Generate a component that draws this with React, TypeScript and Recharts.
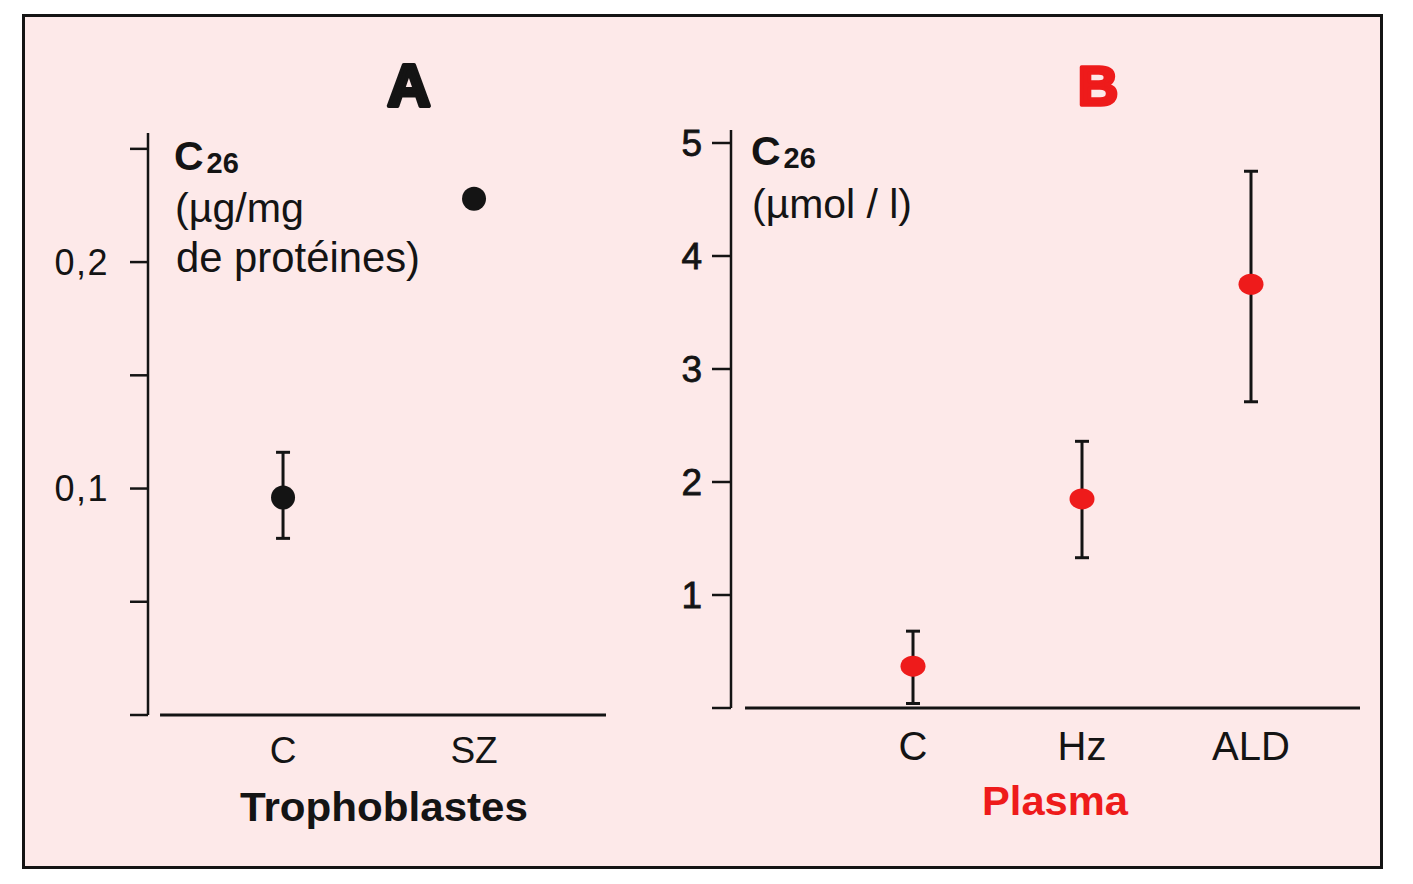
import React from "react";
import { ScatterChart, Scatter, XAxis, YAxis, ErrorBar, ReferenceLine } from "recharts";

const FONT = '"Liberation Sans", Arial, Helvetica, sans-serif';
const INK = "#141414";
const RED = "#ee1b1b";
const PINK = "#fde9e9";

// ---- Panel A : Trophoblastes ----
const categoriesA = ["C", "SZ"];
const meanA = [0.096, 0.228];
const lowA: (number | null)[] = [0.078, null];
const highA: (number | null)[] = [0.116, null];
const yTicksA = [0, 0.05, 0.1, 0.15, 0.2, 0.25];
const yTickLabelsA = ["", "", "0,1", "", "0,2", ""];

// ---- Panel B : Plasma ----
const categoriesB = ["C", "Hz", "ALD"];
const meanB = [0.37, 1.85, 3.75];
const lowB = [0.04, 1.33, 2.71];
const highB = [0.68, 2.36, 4.75];
const yTicksB = [0, 1, 2, 3, 4, 5];
const yTickLabelsB = ["", "1", "2", "3", "4", "5"];

const dataA = categoriesA.map((c, i) => ({
  x: i,
  y: meanA[i],
  err:
    lowA[i] == null || highA[i] == null
      ? null
      : [meanA[i] - (lowA[i] as number), (highA[i] as number) - meanA[i]],
}));

const dataB = categoriesB.map((c, i) => ({
  x: i,
  y: meanB[i],
  err: [meanB[i] - lowB[i], highB[i] - meanB[i]],
}));

const blackDot = (p: any) => <circle cx={p.cx} cy={p.cy} r={12} fill={INK} />;
const redDot = (p: any) => <ellipse cx={p.cx} cy={p.cy} rx={12.5} ry={10.5} fill={RED} />;

export default function App() {
  return (
    <div style={{ position: "absolute", left: 0, top: 0, width: 1413, height: 884, background: "#fff", overflow: "hidden", fontFamily: FONT }}>
      <div
        style={{
          position: "absolute",
          left: 22,
          top: 14,
          width: 1361,
          height: 855,
          boxSizing: "border-box",
          border: `3px solid ${INK}`,
          background: PINK,
        }}
      />

      {/* Panel A */}
      <div style={{ position: "absolute", left: 0, top: 0, width: 700, height: 884 }}>
        <ScatterChart width={700} height={884} margin={{ top: 133, right: 94, bottom: 109, left: 48 }}>
          <XAxis
            type="number"
            dataKey="x"
            domain={[-0.707, 1.691]}
            ticks={[0, 1]}
            tickFormatter={(v: number) => categoriesA[v] ?? ""}
            axisLine={false}
            tickLine={false}
            tickSize={0}
            tickMargin={22}
            height={60}
            tick={{ fontSize: 37, fill: INK, fontFamily: FONT }}
            allowDataOverflow
          />
          <YAxis
            type="number"
            dataKey="y"
            domain={[0, 0.257]}
            ticks={yTicksA}
            tickFormatter={(v: number, i: number) => yTickLabelsA[i] ?? ""}
            width={100}
            tickSize={18}
            tickMargin={21}
            axisLine={{ stroke: INK, strokeWidth: 2.5 }}
            tickLine={{ stroke: INK, strokeWidth: 2.5 }}
            tick={{ fontSize: 36, fill: INK, fontFamily: FONT, letterSpacing: 1.5 }}
            allowDataOverflow
          />
          <ReferenceLine
            segment={[
              { x: -0.644, y: 0 },
              { x: 1.691, y: 0 },
            ]}
            stroke={INK}
            strokeWidth={3}
          />
          <Scatter data={dataA} dataKey="y" shape={blackDot} isAnimationActive={false}>
            <ErrorBar dataKey="err" direction="y" width={7} stroke={INK} strokeWidth={3} isAnimationActive={false} />
          </Scatter>
        </ScatterChart>
      </div>

      {/* Panel B */}
      <div style={{ position: "absolute", left: 600, top: 0, width: 813, height: 884 }}>
        <ScatterChart width={813} height={884} margin={{ top: 130, right: 53, bottom: 116, left: 31 }}>
          <XAxis
            type="number"
            dataKey="x"
            domain={[-1.077, 2.645]}
            ticks={[0, 1, 2]}
            tickFormatter={(v: number) => categoriesB[v] ?? ""}
            axisLine={false}
            tickLine={false}
            tickSize={0}
            tickMargin={24}
            height={60}
            tick={{ fontSize: 40, fill: INK, fontFamily: FONT }}
            allowDataOverflow
          />
          <YAxis
            type="number"
            dataKey="y"
            domain={[0, 5.115]}
            ticks={yTicksB}
            tickFormatter={(v: number, i: number) => yTickLabelsB[i] ?? ""}
            width={100}
            tickSize={19}
            tickMargin={10}
            axisLine={{ stroke: INK, strokeWidth: 2.5 }}
            tickLine={{ stroke: INK, strokeWidth: 2.5 }}
            tick={{ fontSize: 37, fill: INK, fontFamily: FONT, stroke: INK, strokeWidth: 0.8 }}
            allowDataOverflow
          />
          <ReferenceLine
            segment={[
              { x: -0.994, y: 0 },
              { x: 2.645, y: 0 },
            ]}
            stroke={INK}
            strokeWidth={3}
          />
          <Scatter data={dataB} dataKey="y" shape={redDot} isAnimationActive={false}>
            <ErrorBar dataKey="err" direction="y" width={7} stroke={INK} strokeWidth={3} isAnimationActive={false} />
          </Scatter>
        </ScatterChart>
      </div>

      {/* Text overlay */}
      <svg
        width={1413}
        height={884}
        style={{ position: "absolute", left: 0, top: 0, pointerEvents: "none" }}
        fontFamily={FONT}
      >
        <text x={409} y={106} textAnchor="middle" fontSize={60} fontWeight={900} fill={INK} stroke={INK} strokeWidth={4} strokeLinejoin="round">
          A
        </text>
        <text x={1098} y={105} textAnchor="middle" fontSize={56} fontWeight={900} fill={RED} stroke={RED} strokeWidth={3.5} strokeLinejoin="round">
          B
        </text>

        <text x={174} y={170} fill={INK} fontWeight="bold">
          <tspan fontSize={41}>C</tspan>
          <tspan fontSize={29} dx={3} dy={3}>26</tspan>
        </text>
        <text x={175} y={222} fill={INK} fontSize={40} textLength={129} lengthAdjust="spacingAndGlyphs">
          (µg/mg
        </text>
        <text x={176} y={272} fill={INK} fontSize={42} textLength={244} lengthAdjust="spacingAndGlyphs">
          de protéines)
        </text>

        <text x={751} y={165} fill={INK} fontWeight="bold">
          <tspan fontSize={41}>C</tspan>
          <tspan fontSize={29} dx={3} dy={3}>26</tspan>
        </text>
        <text x={752} y={218} fill={INK} fontSize={40} textLength={160} lengthAdjust="spacingAndGlyphs">
          (µmol / l)
        </text>

        <text x={384} y={821} textAnchor="middle" fill={INK} fontSize={40} fontWeight="bold" textLength={288} lengthAdjust="spacingAndGlyphs">
          Trophoblastes
        </text>
        <text x={1055} y={815} textAnchor="middle" fill={RED} fontSize={40} fontWeight="bold" textLength={146} lengthAdjust="spacingAndGlyphs">
          Plasma
        </text>
      </svg>
    </div>
  );
}
